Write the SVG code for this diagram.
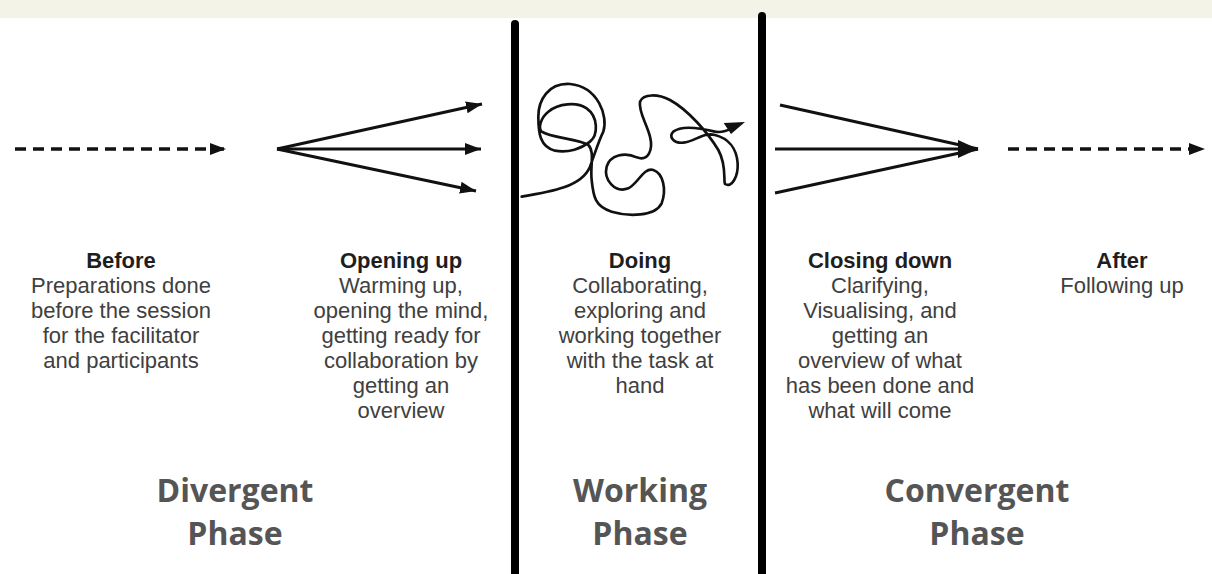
<svg xmlns="http://www.w3.org/2000/svg" width="1212" height="574" viewBox="0 0 1212 574">
<style>
.title{font-family:"Liberation Sans",Arial,sans-serif;font-weight:bold;font-size:22px;fill:#1e1e1e;text-anchor:middle}
.body{font-family:"Liberation Sans",Arial,sans-serif;font-size:22px;fill:#404040;text-anchor:middle}
.phase{font-family:"Open Sans",sans-serif;font-weight:bold;font-size:32px;fill:#555;text-anchor:middle}
.ln{stroke:#111;stroke-width:3;fill:none}
.dash{stroke:#111;stroke-width:3.5;fill:none;stroke-dasharray:11 7}
.divider{stroke:#000;stroke-width:8;stroke-linecap:round}
</style>
<defs>
<marker id="ah" markerUnits="userSpaceOnUse" markerWidth="18" markerHeight="14" refX="16" refY="6" orient="auto">
<path d="M0,0 L16,6 L0,12 z" fill="#111"/>
</marker>
<marker id="ahBig" markerUnits="userSpaceOnUse" markerWidth="22" markerHeight="20" refX="20" refY="9" orient="auto">
<path d="M0,0 L20,9 L0,18 z" fill="#111"/>
</marker>
</defs>
<rect x="0" y="0" width="1212" height="574" fill="#ffffff"/>
<rect x="0" y="0" width="1212" height="18" fill="#f4f3e8"/>
<g id="dividers">
<line class="divider" x1="515" y1="24" x2="515" y2="580"/>
<line class="divider" x1="762" y1="16" x2="762" y2="580"/>
</g>
<g id="connectors">
<line class="dash" x1="15" y1="149" x2="226" y2="149" marker-end="url(#ah)"/>
<line class="ln" x1="277" y1="149" x2="482" y2="104" marker-end="url(#ah)"/>
<line class="ln" x1="277" y1="149" x2="481" y2="149" marker-end="url(#ah)"/>
<line class="ln" x1="277" y1="149" x2="476" y2="191" marker-end="url(#ah)"/>
<line class="ln" x1="780" y1="105" x2="978" y2="149"/>
<line class="ln" x1="775" y1="149" x2="978" y2="149" marker-end="url(#ahBig)"/>
<line class="ln" x1="775" y1="193" x2="978" y2="149"/>
<line class="dash" x1="1008" y1="149" x2="1205" y2="149" marker-end="url(#ah)"/>
<g transform="translate(515,70) scale(0.33333)">
<path fill="none" stroke="#111" stroke-width="8" stroke-linecap="round" stroke-linejoin="round" d="M20,380 C110,365 200,350 225,290 C240,250 250,215 265,185 C280,140 250,50 165,42 C100,38 70,90 70,140 C70,190 75,230 120,242 C160,250 200,235 225,215 C250,195 250,140 215,115 C185,95 130,100 100,125 C75,145 70,175 80,185 C110,205 190,205 220,225 C240,245 225,290 230,330 C235,380 240,410 290,425 C340,440 420,440 440,400 C455,360 445,310 415,300 C385,292 370,340 340,355 C300,370 265,330 275,290 C285,255 330,245 365,262 C400,275 415,240 405,200 C395,160 370,125 375,95 C385,70 430,72 465,90 C520,120 580,190 610,240 C635,285 625,330 630,342 C650,355 670,320 668,280 C665,235 640,205 600,195 C565,185 540,215 505,218 C475,220 460,200 475,185 C500,165 560,175 600,185 C625,190 645,178 660,171"/>
<path d="M690,156 L626,159 L648,192 z" fill="#111"/>
</g>
</g>
<g id="before">
<text class="title" x="121" y="268">Before</text>
<text class="body" x="121" y="293">Preparations done</text>
<text class="body" x="121" y="318">before the session</text>
<text class="body" x="121" y="343">for the facilitator</text>
<text class="body" x="121" y="368">and participants</text>
</g>
<g id="opening-up">
<text class="title" x="401" y="268">Opening up</text>
<text class="body" x="401" y="293">Warming up,</text>
<text class="body" x="401" y="318">opening the mind,</text>
<text class="body" x="401" y="343">getting ready for</text>
<text class="body" x="401" y="368">collaboration by</text>
<text class="body" x="401" y="393">getting an</text>
<text class="body" x="401" y="418">overview</text>
</g>
<g id="doing">
<text class="title" x="640" y="268">Doing</text>
<text class="body" x="640" y="293">Collaborating,</text>
<text class="body" x="640" y="318">exploring and</text>
<text class="body" x="640" y="343">working together</text>
<text class="body" x="640" y="368">with the task at</text>
<text class="body" x="640" y="393">hand</text>
</g>
<g id="closing-down">
<text class="title" x="880" y="268">Closing down</text>
<text class="body" x="880" y="293">Clarifying,</text>
<text class="body" x="880" y="318">Visualising, and</text>
<text class="body" x="880" y="343">getting an</text>
<text class="body" x="880" y="368">overview of what</text>
<text class="body" x="880" y="393">has been done and</text>
<text class="body" x="880" y="418">what will come</text>
</g>
<g id="after">
<text class="title" x="1122" y="268">After</text>
<text class="body" x="1122" y="293">Following up</text>
</g>
<g id="divergent-phase">
<text class="phase" x="235" y="502">Divergent</text>
<text class="phase" x="235" y="545">Phase</text>
</g>
<g id="working-phase">
<text class="phase" x="640" y="502">Working</text>
<text class="phase" x="640" y="545">Phase</text>
</g>
<g id="convergent-phase">
<text class="phase" x="977" y="502">Convergent</text>
<text class="phase" x="977" y="545">Phase</text>
</g>
</svg>
